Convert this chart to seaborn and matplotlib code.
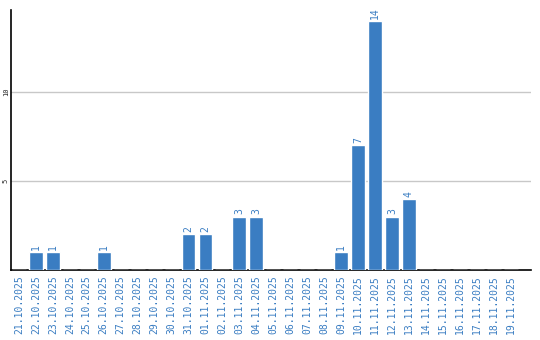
import matplotlib
matplotlib.use("Agg")
import matplotlib.pyplot as plt
import seaborn as sns
import pandas as pd

dates = ["21.10.2025", "22.10.2025", "23.10.2025", "24.10.2025", "25.10.2025",
         "26.10.2025", "27.10.2025", "28.10.2025", "29.10.2025", "30.10.2025",
         "31.10.2025", "01.11.2025", "02.11.2025", "03.11.2025", "04.11.2025",
         "05.11.2025", "06.11.2025", "07.11.2025", "08.11.2025", "09.11.2025",
         "10.11.2025", "11.11.2025", "12.11.2025", "13.11.2025", "14.11.2025",
         "15.11.2025", "16.11.2025", "17.11.2025", "18.11.2025", "19.11.2025"]
counts = [0, 1, 1, 0, 0, 1, 0, 0, 0, 0,
          2, 2, 0, 3, 3, 0, 0, 0, 0, 1,
          7, 14, 3, 4, 0, 0, 0, 0, 0, 0]
yticks = [5, 10]

df = pd.DataFrame({"date": dates, "count": counts})

sns.set_style("white")
plt.rcParams['font.family'] = ['DejaVu Sans Mono', 'DejaVu Sans']

BLUE = "#3a7dc2"
fig = plt.figure(figsize=(5.4, 3.4), dpi=100)
ax = fig.add_axes([11/540, 1-270/340, 520/540, 260/340])

sns.barplot(data=df, x="date", y="count", color=BLUE, width=0.82,
            saturation=1, ax=ax, zorder=3)

for i, v in enumerate(counts):
    if v > 0:
        ax.text(i, v + 0.12, str(v), rotation=90, ha="center", va="bottom",
                color=BLUE, fontsize=7)

ax.set_xlim(-0.47, 30.2)
ax.set_ylim(0, 14.6)
ax.set_yticks(yticks)
ax.set_yticklabels([str(t) for t in yticks], rotation=90, va="center", fontsize=5)
ax.tick_params(axis="y", length=0, pad=1.5)
ax.tick_params(axis="x", length=0, pad=4, labelcolor=BLUE, labelsize=7)
for lab in ax.get_xticklabels():
    lab.set_rotation(90)
ax.grid(axis="y", color="#c8c8c8", linewidth=1, zorder=0)
ax.set_xlabel("")
ax.set_ylabel("")
for s in ["top", "right"]:
    ax.spines[s].set_visible(False)
for s in ["left", "bottom"]:
    ax.spines[s].set_color("black")
    ax.spines[s].set_linewidth(1.2)

fig.savefig("out.png", dpi=100)
